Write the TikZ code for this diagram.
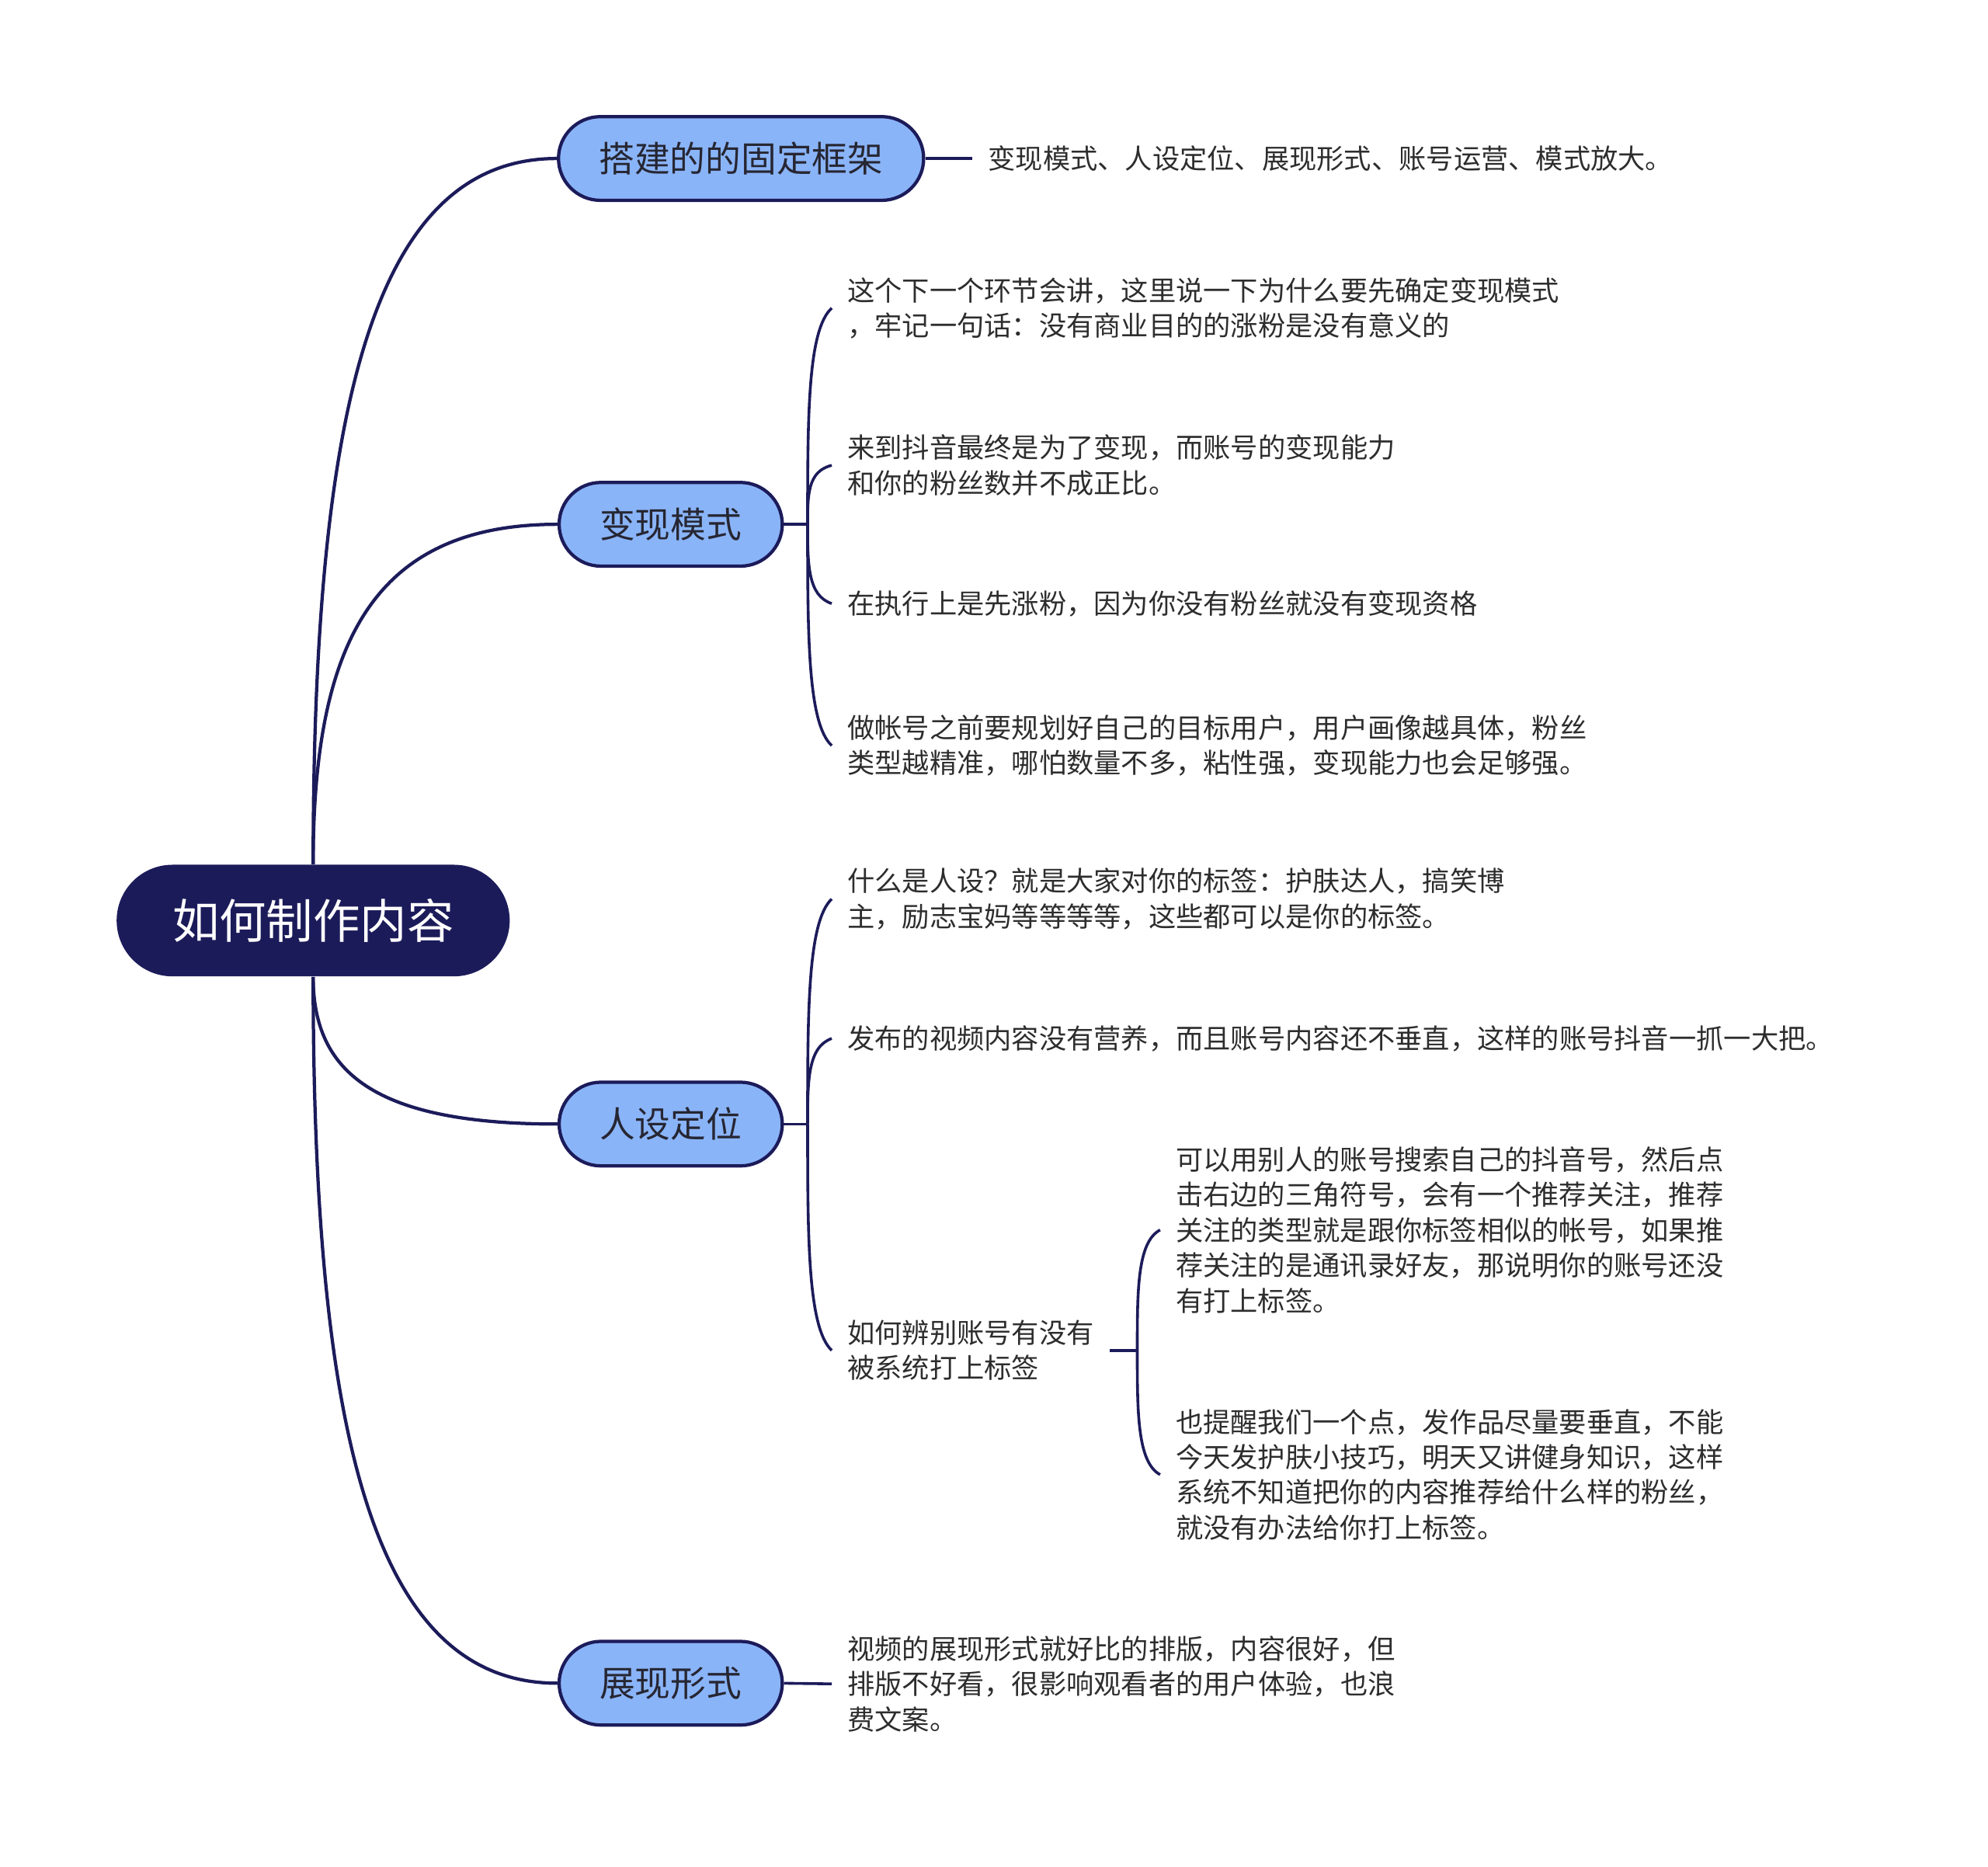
\documentclass[tikz,border=0pt]{standalone}
\usepackage{fontspec}
\usepackage{tikz}
\usetikzlibrary{calc}
\newfontfamily\cjk{Noto Sans CJK SC}
\definecolor{navy}{RGB}{28,27,90}
\definecolor{topicblue}{RGB}{138,180,248}
\definecolor{topictext}{RGB}{38,38,50}
\definecolor{notegray}{RGB}{45,45,45}

\begin{document}
\begin{tikzpicture}[x=0.5pt, y=-0.5pt,
    root/.style={fill=navy, text=white, rounded corners=22pt, minimum width=155pt, minimum height=44pt, font=\cjk\fontsize{18.5}{22}\selectfont},
    topic/.style={draw=navy, line width=1.3pt, fill=topicblue, text=topictext, rounded corners=16.5pt, minimum height=33pt, inner xsep=16pt, font=\cjk\fontsize{14}{17}\selectfont},
    note/.style={anchor=west, align=left, inner xsep=6pt, inner ysep=2pt, text=notegray, font=\cjk\fontsize{10.8}{13.9}\selectfont},
    link/.style={navy, line width=1.3pt},
    brace/.style={navy, line width=1.1pt}]
    \useasboundingbox (0,0) rectangle (1568,1472);

    % main topic and branches
    \node[root] (root) at (247,726) {如何制作内容};
    \node[topic] (frame) at (584.5,125) {搭建的的固定框架};
    \node[topic] (cash) at (529,413.5) {变现模式};
    \node[topic] (persona) at (529,886.5) {人设定位};
    \node[topic] (show) at (529,1327.5) {展现形式};

    \draw[link] (root.north) .. controls +(0,-360) and +(-145,0) .. (frame.west);
    \draw[link] (root.north) .. controls +(0,-175) and +(-145,0) .. (cash.west);
    \draw[link] (root.south) .. controls +(0,75) and +(-145,0) .. (persona.west);
    \draw[link] (root.south) .. controls +(0,362) and +(-145,0) .. (show.west);

    % 搭建的的固定框架
    \node[note] (frame1) at (767,125) {变现模式、人设定位、展现形式、账号运营、模式放大。};
    \draw[brace] (frame.east) -- (frame1.west);

    % 变现模式
    \coordinate (cashfork) at (637,413.5);
    \node[note] (cash1) at (656,243) {这个下一个环节会讲，这里说一下为什么要先确定变现模式\\，牢记一句话：没有商业目的的涨粉是没有意义的};
    \node[note] (cash2) at (656,367) {来到抖音最终是为了变现，而账号的变现能力\\和你的粉丝数并不成正比。};
    \node[note] (cash3) at (656,476) {在执行上是先涨粉，因为你没有粉丝就没有变现资格};
    \node[note] (cash4) at (656,588) {做帐号之前要规划好自己的目标用户，用户画像越具体，粉丝\\类型越精准，哪怕数量不多，粘性强，变现能力也会足够强。};
    \draw[brace] (cash.east) -- (cashfork);
    \foreach \n in {cash1,cash2,cash3,cash4}
        \draw[brace] (cashfork) .. controls ($(cashfork)!0.5!(cashfork |- \n.west)$) and ($(cashfork)!0.9!(cashfork |- \n.west)$) .. (\n.west);

    % 人设定位
    \coordinate (personafork) at (637,886.5);
    \node[note] (persona1) at (656,709) {什么是人设？就是大家对你的标签：护肤达人，搞笑博\\主，励志宝妈等等等等，这些都可以是你的标签。};
    \node[note] (persona2) at (656,819) {发布的视频内容没有营养，而且账号内容还不垂直，这样的账号抖音一抓一大把。};
    \node[note] (persona3) at (656,1065) {如何辨别账号有没有\\被系统打上标签};
    \draw[brace] (persona.east) -- (personafork);
    \foreach \n in {persona1,persona2,persona3}
        \draw[brace] (personafork) .. controls ($(personafork)!0.5!(personafork |- \n.west)$) and ($(personafork)!0.9!(personafork |- \n.west)$) .. (\n.west);

    \coordinate (checkfork) at (897,1065);
    \node[note] (check1) at (915,970) {可以用别人的账号搜索自己的抖音号，然后点\\击右边的三角符号，会有一个推荐关注，推荐\\关注的类型就是跟你标签相似的帐号，如果推\\荐关注的是通讯录好友，那说明你的账号还没\\有打上标签。};
    \node[note] (check2) at (915,1163) {也提醒我们一个点，发作品尽量要垂直，不能\\今天发护肤小技巧，明天又讲健身知识，这样\\系统不知道把你的内容推荐给什么样的粉丝，\\就没有办法给你打上标签。};
    \draw[brace] (persona3.east) -- (checkfork);
    \foreach \n in {check1,check2}
        \draw[brace] (checkfork) .. controls ($(checkfork)!0.5!(checkfork |- \n.west)$) and ($(checkfork)!0.9!(checkfork |- \n.west)$) .. (\n.west);

    % 展现形式
    \node[note] (show1) at (656,1328) {视频的展现形式就好比的排版，内容很好，但\\排版不好看，很影响观看者的用户体验，也浪\\费文案。};
    \draw[brace] (show.east) -- (show1.west);
\end{tikzpicture}
\end{document}
